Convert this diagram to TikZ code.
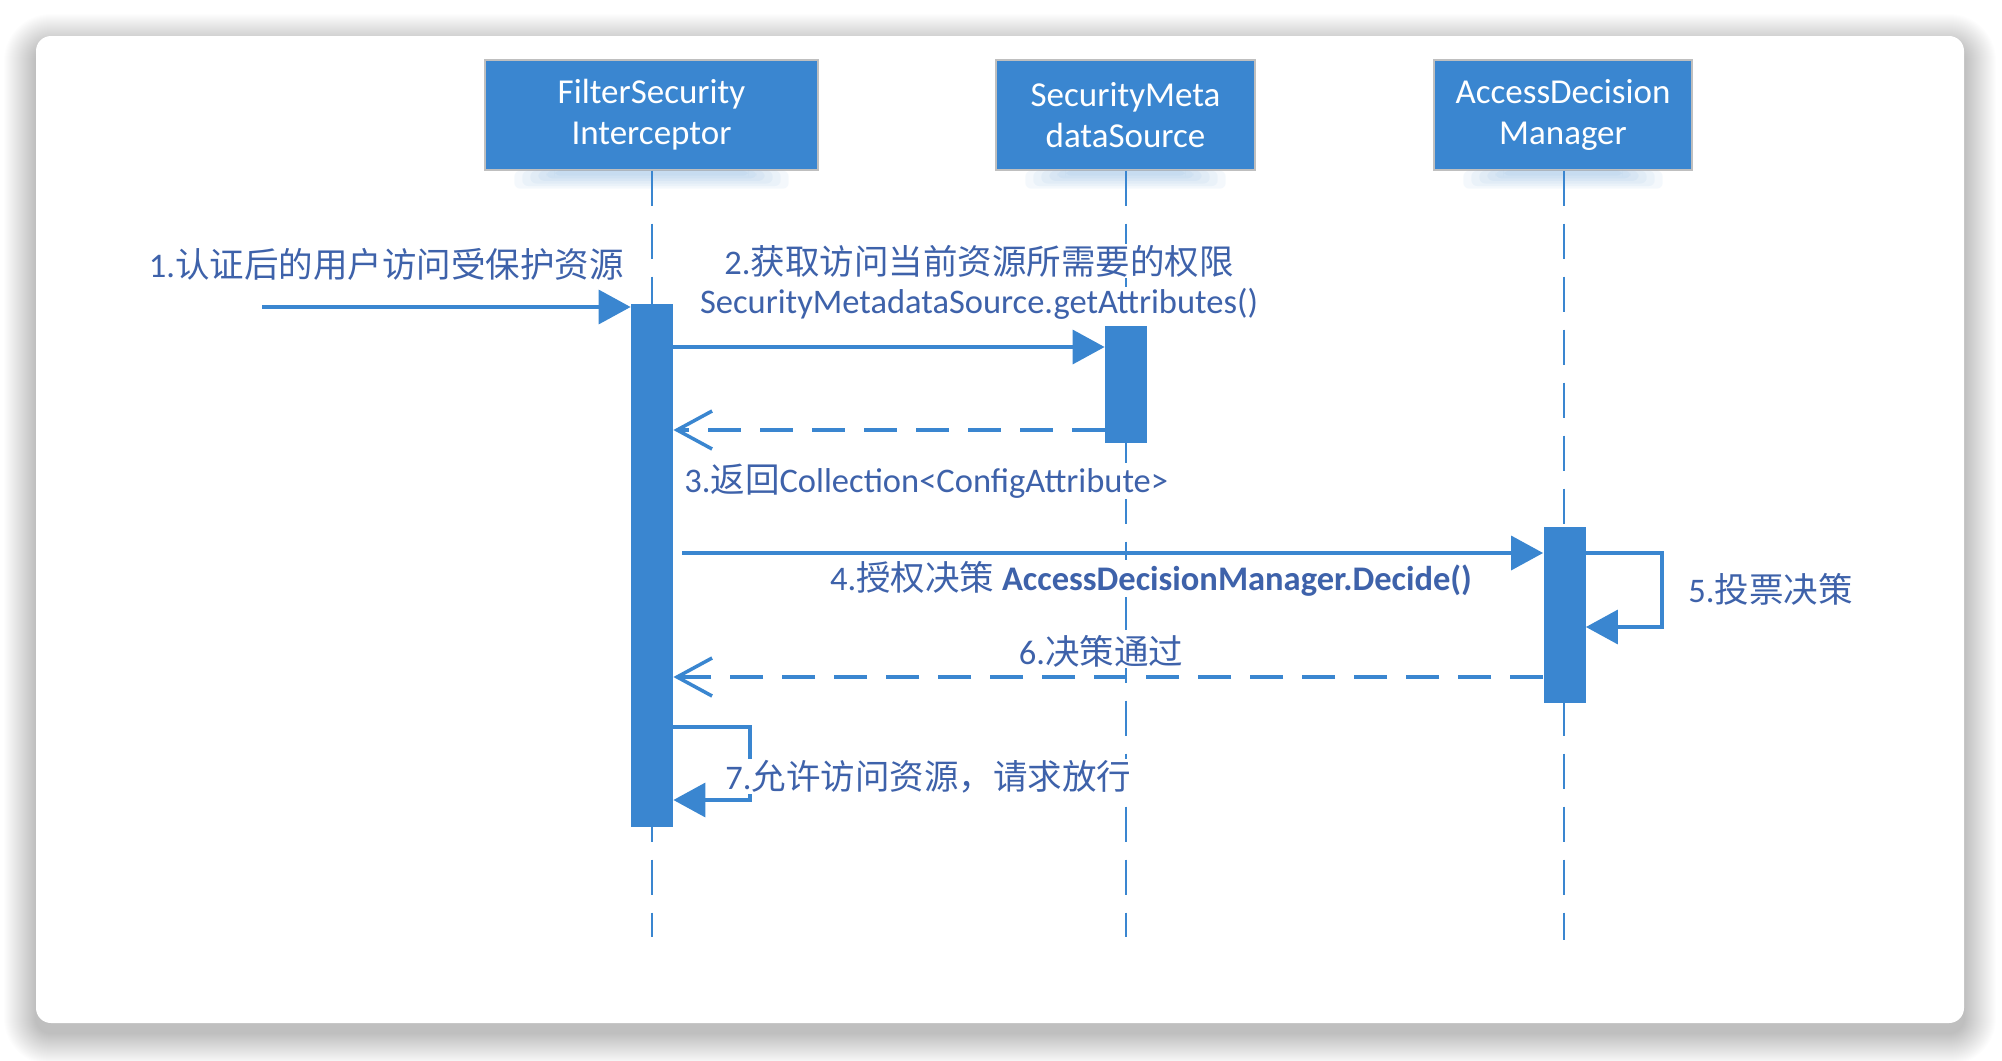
\documentclass[tikz,border=0pt]{standalone}
\usepackage{fontspec}
\setmainfont{Carlito}
\newfontfamily\cjk{Noto Sans CJK SC}
\usetikzlibrary{arrows.meta}
\definecolor{mainblue}{RGB}{58,134,208}
\definecolor{txtblue}{RGB}{62,98,170}
\begin{document}
\begin{tikzpicture}[x=0.5pt,y=-0.5pt,
  hdr/.style={fill=mainblue, draw=black!25, line width=0.7pt, text=white, align=center, inner sep=0pt,
    minimum height=55pt, font=\fontsize{17.5}{20.5}\selectfont},
  bar/.style={fill=mainblue, draw=none, inner sep=0pt, minimum width=21pt},
  life/.style={draw=mainblue, line width=1.4pt, dash pattern=on 17.5pt off 9pt},
  msg/.style={draw=mainblue, line width=1.75pt, -{Triangle[length=16pt,width=17pt]}},
  ret/.style={draw=mainblue, line width=1.75pt, dash pattern=on 16.5pt off 9.5pt,
    -{Straight Barb[length=17.5pt,width=19pt]}},
  lbl/.style={text=txtblue, fill=white, inner sep=0.5pt, font=\fontsize{17.25}{20}\selectfont},
  glow/.style={fill=mainblue, opacity=0.05},
]
\useasboundingbox (0,0) rectangle (2002,1060);
\fill[white] (0,0) rectangle (2002,1060);
% card shadow
\foreach \i in {1,...,32}{
  \fill[black, opacity=0.008, rounded corners={(15+\i)*0.5pt}] (36-\i,46-\i) rectangle (1964+\i,1033+\i);
}
\fill[white, rounded corners=7.5pt] (36,36) rectangle (1964,1023);

% headers
\node[hdr, minimum width=166.5pt] (fsi) at (651.5,115) {FilterSecurity\\Interceptor};
\node[hdr, minimum width=129.5pt] (smd) at (1125.5,115) {SecurityMeta\\dataSource};
\node[hdr, minimum width=129pt] (adm) at (1563,115) {AccessDecision\\Manager};
\foreach \n in {fsi,smd,adm}{
  \foreach \k in {0,...,5}{
    \fill[glow, rounded corners=3pt] ([xshift={(15+4*\k)*1pt}]\n.south west) rectangle ([xshift={-(15+4*\k)*1pt},yshift={-(9-1.3*\k)*1pt}]\n.south east);
  }
}

% lifelines
\coordinate (e1) at (652,937);
\coordinate (e2) at (1126,937);
\coordinate (e3) at (1564,940);
\draw[life] (fsi.south -| e1) -- (e1);
\draw[life] (smd.south -| e2) -- (e2);
\draw[life] (adm.south -| e3) -- (e3);

% activation bars
\node[bar, minimum height=261.5pt] (b1) at (652,565.5) {};
\node[bar, minimum height=58.5pt] (b2) at (1126,384.5) {};
\node[bar, minimum height=88pt] (b3) at (1564.5,615) {};

% messages
\coordinate (s1) at (262,307);
\draw[msg] (s1) -- (s1 -| b1.west);
\coordinate (m2) at (0,347);
\draw[msg] (b1.east |- m2) -- (b2.west |- m2);
\coordinate (m3) at (0,430);
\draw[ret] (b2.west |- m3) -- (b1.east |- m3);
\coordinate (m4) at (682,553);
\draw[msg] (m4) -- (m4 -| b3.west);
\coordinate (c5a) at (1662,553);
\coordinate (c5b) at (1662,627);
\draw[msg] (b3.east |- c5a) -- (c5a) -- (c5b) -- (b3.east |- c5b);
\coordinate (m6) at (0,677);
\draw[ret] (b3.west |- m6) -- (b1.east |- m6);
\coordinate (c7a) at (750,727);
\coordinate (c7b) at (750,800);
\draw[msg] (b1.east |- c7a) -- (c7a) -- (c7b) -- (b1.east |- c7b);

% labels
\node[lbl, anchor=base east] (t1) at (625,277) {1.{\cjk 认证后的用户访问受保护资源}};
\node[lbl, anchor=base] (t2a) at (979,274) {2.{\cjk 获取访问当前资源所需要的权限}};
\node[lbl, anchor=base] (t2b) at (979,313) {SecurityMetadataSource.getAttributes()};
\node[lbl, anchor=base west] (t3) at (683,492) {3.{\cjk 返回}Collection<ConfigAttribute>};
\node[lbl, anchor=base] (t4) at (1151,590) {4.{\cjk 授权决策} \textbf{AccessDecisionManager.Decide()}};
\node[lbl, anchor=base west] (t5) at (1687,602) {5.{\cjk 投票决策}};
\node[lbl, anchor=base] (t6) at (1101,664) {6.{\cjk 决策通过}};
\node[lbl, anchor=base west] (t7) at (724,789) {7.{\cjk 允许访问资源，请求放行}};
\end{tikzpicture}
\end{document}
